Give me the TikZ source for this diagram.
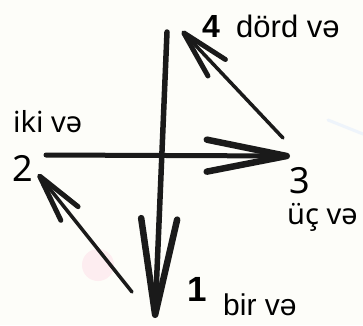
\documentclass[tikz,border=0pt]{standalone}
\usepackage{fontspec}
\setmainfont{Noto Sans}
\newfontfamily\armfont{Liberation Sans}
\usetikzlibrary{arrows.meta}
\definecolor{paper}{HTML}{FDFDF9}
\definecolor{ink}{HTML}{1A1A1A}
\definecolor{blush}{HTML}{FDEDF0}
\definecolor{haze}{HTML}{EEF4FB}
\begin{document}
\begin{tikzpicture}[x=1pt, y=-1pt,
	stroke/.style={ink, line cap=round, line join=round},
	digit/.style={inner sep=0pt, font=\fontsize{36}{36}\selectfont},
	bolddigit/.style={inner sep=0pt, font=\armfont\bfseries\fontsize{32}{32}\selectfont},
	word/.style={inner sep=0pt, anchor=base west, font=\fontsize{29}{30}\selectfont}]
	\fill [paper] (0, 0) rectangle (363, 325);
	\useasboundingbox (0, 0) rectangle (363, 325);
	\fill [blush] (98, 265) circle (16pt);
	\draw [haze, line width=3pt, line cap=round] (328, 120) -- (363, 134);
	% arrow ends
	\coordinate (top) at (167, 32);
	\coordinate (bottom) at (155, 318);
	\coordinate (left) at (46, 155);
	\coordinate (right) at (290, 156);
	\coordinate (rise) at (283, 138);
	\coordinate (peak) at (182, 31);
	\coordinate (foot) at (132, 292);
	\coordinate (corner) at (38, 174);
	% arrows
	\draw [stroke, line width=5.5pt, -{Straight Barb[length=96pt, width=36pt, line width=6.5pt, round]}] (top) -- (bottom);
	\draw [stroke, line width=5pt, -{Straight Barb[length=80pt, width=32pt, line width=6.5pt, round]}] (left) -- (right);
	\draw [stroke, line width=3.5pt, -{Straight Barb[length=48pt, width=24pt, line width=5pt, round]}] (rise) -- (peak);
	\draw [stroke, line width=3.5pt, -{Straight Barb[length=48pt, width=22pt, line width=5pt, round]}] (foot) -- (corner);
	% labels
	\node [bolddigit] (n4) at (211, 26) {4};
	\node [word, font=\armfont\fontsize{31}{32}\selectfont] (l4) at (236, 37) {dörd və};
	\node [word] (l2) at (13, 132) {iki və};
	\node [digit] (n2) at (23, 168) {2};
	\node [digit] (n3) at (300, 181) {3};
	\node [word] (l3) at (287, 224) {üç və};
	\node [bolddigit, font=\armfont\bfseries\fontsize{35}{35}\selectfont] (n1) at (197, 289) {1};
	\node [word, font=\armfont\fontsize{30}{31}\selectfont] (l1) at (223, 315) {bir və};
\end{tikzpicture}
\end{document}
